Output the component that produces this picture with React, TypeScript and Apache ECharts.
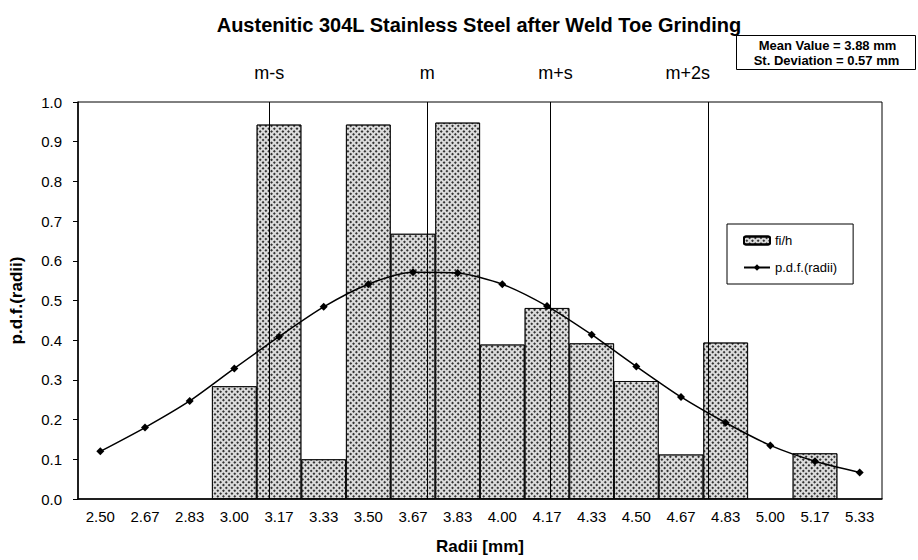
import React, { useEffect, useRef } from 'react';
import * as echarts from 'echarts';

// ---- data ----
const categories = ['2.50', '2.67', '2.83', '3.00', '3.17', '3.33', '3.50', '3.67', '3.83', '4.00', '4.17', '4.33', '4.50', '4.67', '4.83', '5.00', '5.17', '5.33'];
const histValues = [null, null, null, 0.284, 0.943, 0.1, 0.943, 0.668, 0.948, 0.389, 0.481, 0.392, 0.297, 0.112, 0.394, null, 0.115, null];
const pdfValues = [0.12, 0.18, 0.247, 0.329, 0.409, 0.484, 0.541, 0.571, 0.569, 0.541, 0.486, 0.414, 0.334, 0.257, 0.192, 0.135, 0.095, 0.067];
const markerNames = ['m-s', 'm', 'm+s', 'm+2s'];
const markerPositions = [3.13, 3.72, 4.18, 4.77];
const statsLines = ['Mean Value = 3.88 mm', 'St. Deviation = 0.57 mm'];
const seriesNames = ['fi/h', 'p.d.f.(radii)'];
const binWidth = 1 / 6;

const FONT = 'Liberation Sans, Arial, sans-serif';

export default function App() {
  const ref = useRef<HTMLDivElement>(null);
  useEffect(() => {
    if (!ref.current) return;
    const chart = echarts.init(ref.current, null, { renderer: 'svg' });
    const axisMin = parseFloat(categories[0]) - binWidth / 2;
    const axisMax = axisMin + categories.length * binWidth;
    const labelShift = [0, 0, 5, -21];
    chart.setOption({
      animation: false,
      backgroundColor: '#fff',
      textStyle: { fontFamily: FONT, color: '#000' },
      title: {
        text: 'Austenitic 304L Stainless Steel after Weld Toe Grinding',
        left: 474,
        top: 10,
        textAlign: 'center',
        textStyle: { fontFamily: FONT, fontSize: 20, fontWeight: 'bold', color: '#000' },
      },
      legend: {
        data: seriesNames,
        orient: 'vertical',
        left: 727,
        top: 224,
        borderColor: '#000',
        borderWidth: 1,
        padding: [10, 16, 10, 16],
        itemGap: 14,
        itemWidth: 26,
        itemHeight: 8,
        textStyle: { fontFamily: FONT, fontSize: 13, color: '#000' },
      },
      grid: { left: 78, right: 36, top: 102, bottom: 55, show: true, borderColor: '#000', borderWidth: 1 },
      xAxis: [
        {
          type: 'category',
          data: categories,
          boundaryGap: true,
          name: 'Radii [mm]',
          nameLocation: 'middle',
          nameGap: 39,
          nameTextStyle: { fontFamily: FONT, fontSize: 17, fontWeight: 'bold', color: '#000' },
          axisLine: { lineStyle: { color: '#000', width: 1.5 } },
          axisTick: { interval: 1, length: 5, lineStyle: { color: '#000' } },
          axisLabel: { interval: 0, fontSize: 15, color: '#000', margin: 10, fontFamily: FONT },
          splitLine: { show: false },
        },
        {
          type: 'value',
          min: axisMin,
          max: axisMax,
          show: false,
          splitLine: { show: false },
        },
      ],
      yAxis: {
        type: 'value',
        min: 0,
        max: 1,
        interval: 0.1,
        name: 'p.d.f.(radii)',
        nameLocation: 'middle',
        nameGap: 53,
        nameRotate: 90,
        nameTextStyle: { fontFamily: FONT, fontSize: 17, fontWeight: 'bold', color: '#000' },
        axisLine: { show: true, lineStyle: { color: '#000', width: 1.5 } },
        axisTick: { show: true, length: 5, lineStyle: { color: '#000' } },
        axisLabel: { fontSize: 15, color: '#000', margin: 16, fontFamily: FONT, formatter: (v: number) => v.toFixed(1) },
        splitLine: { show: false },
      },
      series: [
        {
          name: seriesNames[0],
          type: 'bar',
          data: histValues,
          barCategoryGap: '0%',
          itemStyle: {
            color: '#dcdcdc',
            borderColor: '#000',
            borderWidth: 0.8,
            decal: {
              symbol: 'rect',
              symbolSize: 1,
              dashArrayX: [2, 2],
              dashArrayY: [2, 2],
              rotation: Math.PI / 4,
              color: 'rgba(20,20,20,0.85)',
            },
          },
        },
        {
          name: seriesNames[1],
          type: 'line',
          data: pdfValues,
          smooth: 0.25,
          symbol: 'diamond',
          symbolSize: 8,
          lineStyle: { color: '#000', width: 1.5 },
          itemStyle: { color: '#000' },
          z: 5,
        },
        {
          name: 'markers',
          type: 'line',
          xAxisIndex: 1,
          data: [],
          markLine: {
            silent: true,
            symbol: ['none', 'none'],
            lineStyle: { color: '#000', width: 1, type: 'solid' },
            label: {
              show: true,
              position: 'end',
              formatter: '{b}',
              fontSize: 18,
              fontFamily: FONT,
              color: '#000',
              distance: 20,
            },
            data: markerPositions.map((x, i) => ({
              name: markerNames[i],
              xAxis: x,
              label: { offset: [labelShift[i], 0] },
            })),
          },
        },
      ],
      graphic: [
        {
          type: 'group',
          left: 736,
          top: 35,
          children: [
            { type: 'rect', shape: { x: 0, y: 0, width: 179, height: 34 }, style: { fill: '#fff', stroke: '#000', lineWidth: 1 } },
            {
              type: 'text',
              x: 91,
              y: 10,
              style: { text: statsLines[0], font: `bold 13px ${FONT}`, fill: '#000', textAlign: 'center', textVerticalAlign: 'middle' },
            },
            {
              type: 'text',
              x: 90,
              y: 25,
              style: { text: statsLines[1], font: `bold 13px ${FONT}`, fill: '#000', textAlign: 'center', textVerticalAlign: 'middle' },
            },
          ],
        },
      ],
    });
    return () => chart.dispose();
  }, []);
  return <div ref={ref} style={{ position: 'absolute', left: 0, top: 0, width: 918, height: 560 }} />;
}
